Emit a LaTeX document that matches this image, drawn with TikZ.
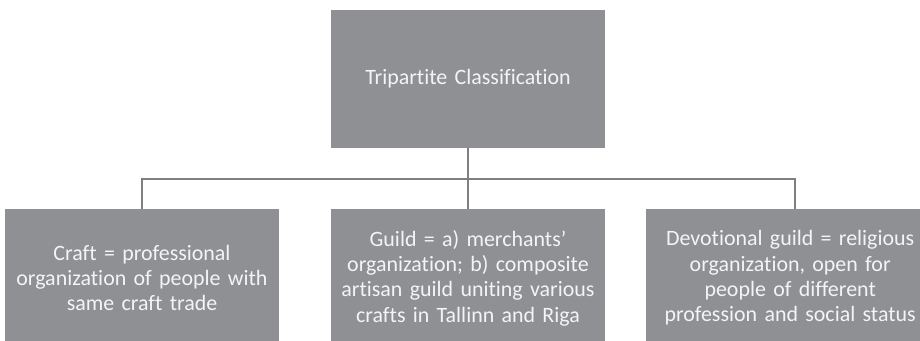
\documentclass[tikz,border=0pt]{standalone}
\usepackage{fontspec}
\setmainfont{Carlito}[Ligatures=NoCommon]
\definecolor{boxgray}{HTML}{8F9094}
\definecolor{linegray}{HTML}{7F7F7F}
\definecolor{textwhite}{HTML}{F4F4F4}
\usetikzlibrary{positioning}
\tikzset{
    classbox/.style={
        fill=boxgray,
        draw=none,
        minimum width=6.7cm,
        minimum height=3.45cm,
        text width=6.6cm,
        align=center,
        text=textwhite,
        font=\fontsize{15.6}{18}\selectfont
    },
    classline/.style={
        draw=linegray,
        line width=1.3pt
    }
}
\begin{document}
\begin{tikzpicture}
    \useasboundingbox (0,0) rectangle (23,-8.525);
    \clip (0,0) rectangle (23,-8.525);

    \node[classbox] (tripartite) at (11.7,-1.975)
        {Tripartite Classification};
    \node[classbox] (craft) at (3.55,-6.95)
        {Craft = professional\\organization of people with\\same craft trade};
    \node[classbox] (guild) at (11.7,-6.95)
        {Guild = a) merchants’\\organization; b) composite\\artisan guild uniting various\\crafts in Tallinn and Riga};
    \node[classbox,text width=7cm,xshift=-0.12cm] (devotional) at (19.875,-6.95)
        {Devotional guild = religious\\organization, open for\\people of different\\profession and social status};

    \coordinate (bus) at (11.7,-4.475);
    \draw[classline] (tripartite.south) -- (bus);
    \draw[classline] (craft.north) |- (bus) -| ([xshift=0.12cm]devotional.north);
    \draw[classline] (bus) -- (guild.north);
\end{tikzpicture}
\end{document}
